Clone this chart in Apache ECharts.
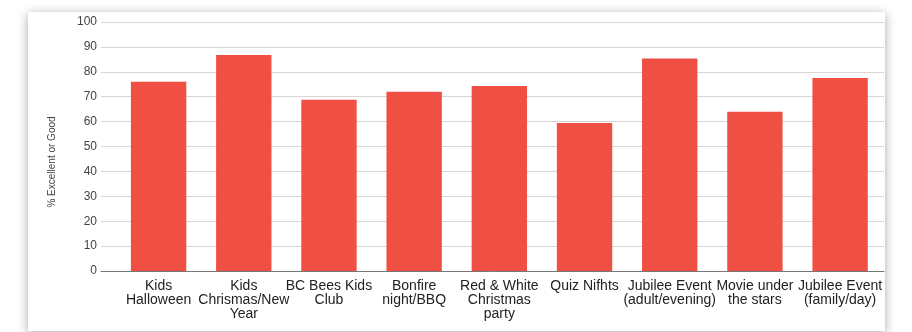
<!DOCTYPE html>
<html>
<head>
<meta charset="utf-8">
<script src="https://cdn.jsdelivr.net/npm/echarts@6/dist/echarts.min.js"></script>
<style>
  html, body { margin: 0; padding: 0; background: #fff; width: 912px; height: 332px; overflow: hidden; }
  #card {
    position: absolute; left: 28px; top: 12px; width: 857px; height: 319px;
    background: #fff; box-shadow: 0 2px 10px rgba(0,0,0,0.35);
  }
  #chart { width: 857px; height: 319px; }
</style>
</head>
<body>
<div id="card"><div id="chart"></div></div>
<script>
const categories = [
  "Kids\nHalloween",
  "Kids\nChrismas/New\nYear",
  "BC Bees Kids\nClub",
  "Bonfire\nnight/BBQ",
  "Red & White\nChristmas\nparty",
  "Quiz Nifhts",
  "Jubilee Event\n(adult/evening)",
  "Movie under\nthe stars",
  "Jubilee Event\n(family/day)",
];
const scores = [76, 86.7, 68.8, 72, 74.3, 59.4, 85.3, 64, 77.5];
const yTicks = [0, 10, 20, 30, 40, 50, 60, 70, 80, 90, 100];
const yTitle = "% Excellent or Good";

const font = "'Liberation Sans', Arial, sans-serif";
const chart = echarts.init(document.getElementById("chart"));

chart.setOption({
  animation: false,
  backgroundColor: "transparent",
  textStyle: { fontFamily: font },
  // grid 0 carries the gridlines and y labels, grid 1 the bars (inset like the original)
  grid: [
    { left: 73, right: 1, top: 10, bottom: 60 },
    { left: 88, right: 0, top: 10, bottom: 60 },
  ],
  xAxis: [
    {
      gridIndex: 0,
      type: "value",
      min: 0,
      max: 1,
      axisLine: { show: true, onZero: false, lineStyle: { color: "#777", width: 1 } },
      axisTick: { show: false },
      axisLabel: { show: false },
      splitLine: { show: false },
    },
    {
      gridIndex: 1,
      type: "category",
      data: categories,
      axisLine: { show: false },
      axisTick: { show: false },
      axisLabel: {
        color: "#222",
        fontSize: 14,
        lineHeight: 14,
        margin: 8,
        interval: 0,
        fontFamily: font,
      },
    },
  ],
  yAxis: [
    {
      gridIndex: 0,
      type: "value",
      min: yTicks[0],
      max: yTicks[yTicks.length - 1],
      interval: 10,
      axisLine: { show: false },
      axisTick: { show: false },
      axisLabel: { color: "#444", fontSize: 12, margin: 4, fontFamily: font },
      splitLine: { lineStyle: { color: "#d6d6d6", width: 1 } },
    },
    {
      gridIndex: 1,
      type: "value",
      min: yTicks[0],
      max: yTicks[yTicks.length - 1],
      show: false,
      splitLine: { show: false },
    },
  ],
  graphic: [
    {
      type: "text",
      x: 24,
      y: 150,
      rotation: Math.PI / 2,
      style: {
        text: yTitle,
        fill: "#444",
        font: "10px " + font,
        align: "center",
        verticalAlign: "middle",
      },
    },
  ],
  series: [
    {
      type: "bar",
      xAxisIndex: 1,
      yAxisIndex: 1,
      data: scores,
      barCategoryGap: "35%",
      itemStyle: { color: "#ef5043" },
    },
  ],
});
</script>
</body>
</html>
